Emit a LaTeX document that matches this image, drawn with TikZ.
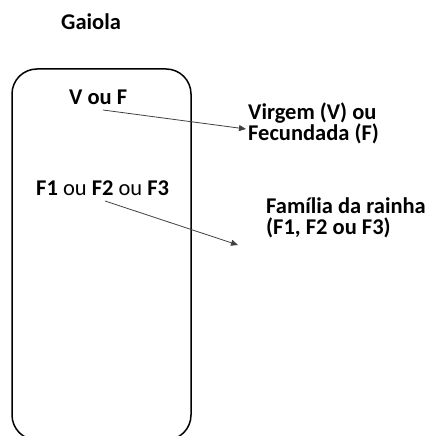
\documentclass[tikz,border=0pt]{standalone}
\usepackage{fontspec}
\setmainfont{Carlito}
\usetikzlibrary{arrows.meta}
\begin{document}
\begin{tikzpicture}[x=1pt,y=1pt,
  txt/.style={anchor=base west,inner sep=0pt,font=\fontsize{22.5}{21.5}\selectfont\bfseries,align=left},
  cage/.style={draw=black,line width=1.5pt,rounded corners=25pt},
  pointer/.style={draw=black!75,line width=0.8pt,-{Triangle[length=7pt,width=6pt]}}]
  \useasboundingbox (0,0) rectangle (432,436);
  % cage outline, open past the lower edge
  \draw[cage] (12,-4) rectangle (191,367);
  % titles and labels
  \node[txt] (title) at (61,406) {Gaiola};
  \node[txt] (state) at (69,331) {V ou F};
  \node[txt] (family) at (36,240) {F1 \mdseries ou \bfseries F2 \mdseries ou \bfseries F3};
  \node[txt] (stateinfo) at (248,295) {Virgem (V) ou\\Fecundada (F)};
  \node[txt] (familyinfo) at (266,201) {Família da rainha\\(F1, F2 ou F3)};
  % pointers
  \coordinate (s1) at (103,326);
  \coordinate (t1) at (246,307);
  \coordinate (s2) at (105,235);
  \coordinate (t2) at (238,191);
  \draw[pointer] (s1) -- (t1);
  \draw[pointer] (s2) -- (t2);
\end{tikzpicture}
\end{document}
